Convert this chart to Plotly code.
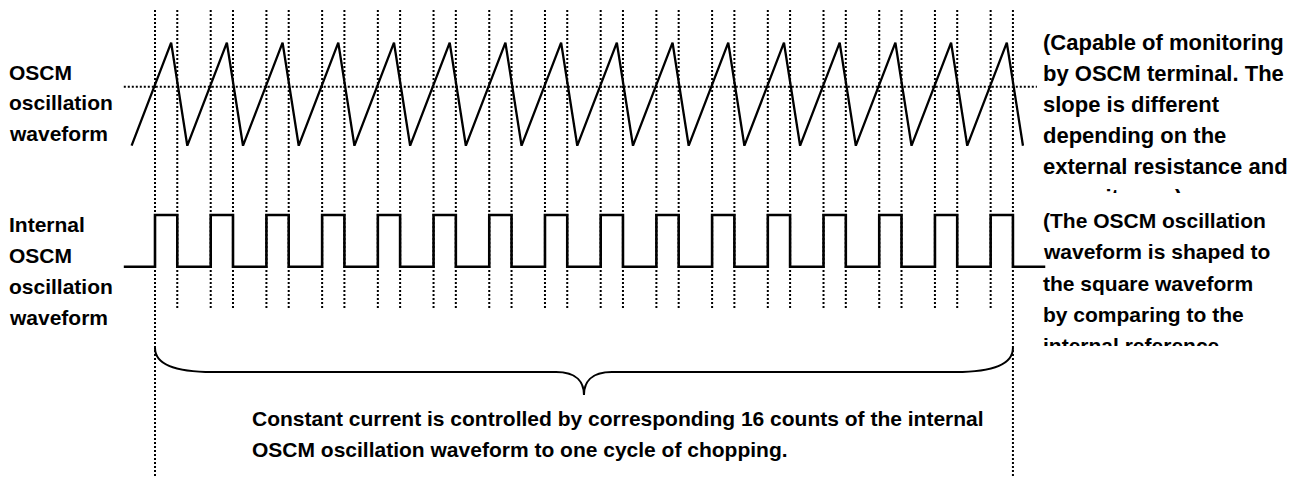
import plotly.graph_objects as go

# ---------------- data (time unit = one OSCM period) ----------------
rise_times = [0, 1, 2, 3, 4, 5, 6, 7, 8, 9, 10, 11, 12, 13, 14, 15]
fall_times = [0.4, 1.4, 2.4, 3.4, 4.4, 5.4, 6.4, 7.4, 8.4, 9.4, 10.4, 11.4,
              12.4, 13.4, 14.4, 15.4]
saw_peak_times = [0.29, 1.29, 2.29, 3.29, 4.29, 5.29, 6.29, 7.29, 8.29, 9.29,
                  10.29, 11.29, 12.29, 13.29, 14.29, 15.29]
saw_trough_times = [-0.42, 0.58, 1.58, 2.58, 3.58, 4.58, 5.58, 6.58, 7.58, 8.58,
                    9.58, 10.58, 11.58, 12.58, 13.58, 14.58, 15.58]
saw_low, saw_high = 0.0, 1.0
threshold_level = 0.573
threshold_span = [-0.56, 15.83]
square_low, square_high = 0.0, 1.0
square_span = [-0.56, 15.98]

left_label_1 = ["OSCM", "oscillation", "waveform"]
left_label_2 = ["Internal", "OSCM", "oscillation", "waveform"]
note_1 = ["(Capable of monitoring", "by OSCM terminal. The", "slope is different",
          "depending on the", "external resistance and", "capacitance.)"]
note_2 = ["(The OSCM oscillation", "waveform is shaped to", "the square waveform",
          "by comparing to the", "internal reference"]
bottom_note = ["Constant current is controlled by corresponding 16 counts of the internal",
               "OSCM oscillation waveform to one cycle of chopping."]

# ---------------- layout helpers ----------------
W, H = 1300, 478
OFF = 8            # page margin around the figure in the viewer
PX_PER_T = 55.71
X_ORIGIN = 155.0 - OFF
x_range = [-X_ORIGIN / PX_PER_T, (W - X_ORIGIN) / PX_PER_T]


def py(px):
    # px = target row in the screenshot
    return 1 - (px - OFF) / H


def domain_for(px0, px1, pad):
    # px0 = pixel row of value 0, px1 = pixel row of value 1
    span = px0 - px1
    lo = px0 + pad * span
    hi = px1 - pad * span
    return [py(lo), py(hi)], [-pad, 1 + pad]


saw_dom, saw_rng = domain_for(145.7, 42.7, 0.08)
sq_dom, sq_rng = domain_for(266.7, 215.0, 0.2)

# ---------------- traces ----------------
saw_x, saw_y = [], []
for i, tt in enumerate(saw_trough_times):
    saw_x.append(tt)
    saw_y.append(saw_low)
    if i < len(saw_peak_times):
        saw_x.append(saw_peak_times[i])
        saw_y.append(saw_high)

sq_x, sq_y = [square_span[0]], [square_low]
for r, f in zip(rise_times, fall_times):
    sq_x += [r, r, f, f]
    sq_y += [square_low, square_high, square_high, square_low]
sq_x.append(square_span[1])
sq_y.append(square_low)

fig = go.Figure()
fig.add_trace(go.Scatter(x=threshold_span, y=[threshold_level] * 2, mode="lines",
                         line=dict(color="black", width=2, dash="2px,2px"),
                         xaxis="x", yaxis="y", hoverinfo="skip"))
fig.add_trace(go.Scatter(x=saw_x, y=saw_y, mode="lines",
                         line=dict(color="black", width=2.3),
                         xaxis="x", yaxis="y", hoverinfo="skip"))
fig.add_trace(go.Scatter(x=sq_x, y=sq_y, mode="lines",
                         line=dict(color="black", width=2.6),
                         xaxis="x", yaxis="y2", hoverinfo="skip"))

# ---------------- dotted timing markers ----------------
shapes = []
edges = sorted(rise_times + fall_times)
for t in edges:
    tall = (t == rise_times[0]) or (t == fall_times[-1])
    shapes.append(dict(type="line", xref="x", yref="paper", x0=t, x1=t,
                       y0=py(10), y1=py(H + 10 if tall else 310),
                       line=dict(color="black", width=2, dash="2px,2px"),
                       layer="above"))

# curly brace spanning one chopping cycle
t0, t1 = rise_times[0], fall_times[-1]
tm = (t0 + t1) / 2
yt, yf, yc = py(348), py(372), py(395)
path = (f"M {t0},{yt} C {t0},{py(366)} {t0 + 0.45},{yf} {t0 + 1.03},{yf} "
        f"L {tm - 0.5},{yf} C {tm - 0.12},{yf} {tm},{py(383)} {tm},{yc} "
        f"C {tm},{py(383)} {tm + 0.12},{yf} {tm + 0.5},{yf} "
        f"L {t1 - 1.03},{yf} C {t1 - 0.45},{yf} {t1},{py(366)} {t1},{yt}")
shapes.append(dict(type="path", xref="x", yref="paper", path=path,
                   line=dict(color="black", width=2)))

# ---------------- text ----------------
FAMILY = "Liberation Sans, Arial, sans-serif"


def line_ann(text, x_px, baseline, size=21, clip_px=None):
    asc = 0.905 * size  # px from top of text box to baseline
    d = dict(text=text, xref="paper", yref="paper", x=(x_px - OFF) / W,
             y=py(baseline - asc), xanchor="left", yanchor="top",
             showarrow=False,
             font=dict(family=FAMILY, size=size, color="black", weight="bold"),
             align="left", valign="top", borderpad=0, borderwidth=0)
    if clip_px is not None:
        d["height"] = clip_px - (baseline - asc)
    return d


anns = []
for i, s in enumerate(left_label_1):
    anns.append(line_ann(s, 9, 80 + 30.5 * i))
for i, s in enumerate(left_label_2):
    anns.append(line_ann(s, 9, 232 + 31 * i))
for i, s in enumerate(note_1):
    clip = 193 if i == len(note_1) - 1 else None
    anns.append(line_ann(s, 1043, 50 + 31 * i, size=22, clip_px=clip))
for i, s in enumerate(note_2):
    clip = 346 if i == len(note_2) - 1 else None
    anns.append(line_ann(s, 1043, 228 + 31.3 * i if i < 4 else 353, clip_px=clip))
for i, s in enumerate(bottom_note):
    anns.append(line_ann(s, 252, 426 + 31 * i))

fig.update_layout(
    width=W, height=H, margin=dict(l=0, r=0, t=0, b=0),
    paper_bgcolor="white", plot_bgcolor="white", showlegend=False,
    xaxis=dict(range=x_range, domain=[0, 1], visible=False, fixedrange=True),
    yaxis=dict(range=saw_rng, domain=saw_dom, visible=False, fixedrange=True),
    yaxis2=dict(range=sq_rng, domain=sq_dom, visible=False, fixedrange=True),
    shapes=shapes, annotations=anns, hovermode=False,
)

fig.write_html("out.html", config={"displayModeBar": False})
